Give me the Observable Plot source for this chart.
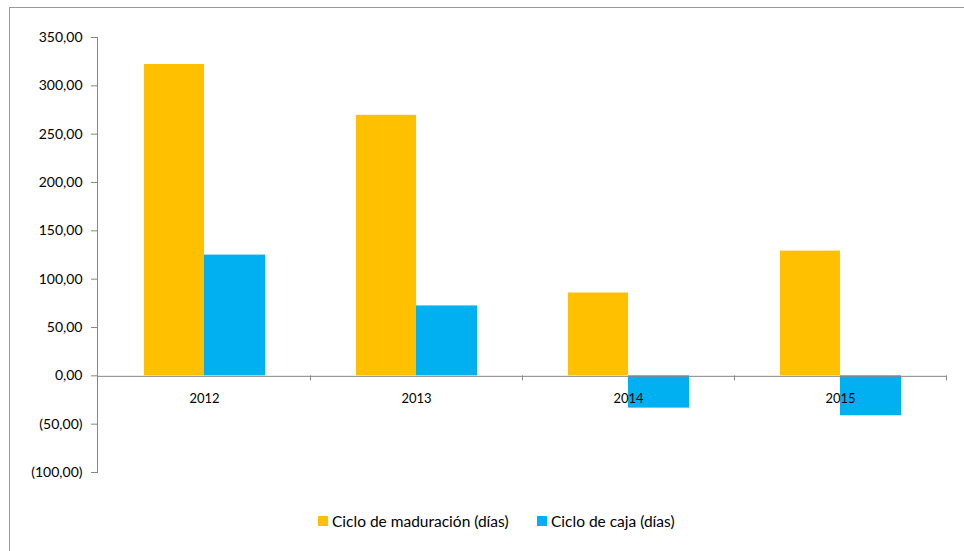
<!DOCTYPE html>
<html><head><meta charset="utf-8">
<script src="https://cdn.jsdelivr.net/npm/d3@7"></script>
<script src="https://cdn.jsdelivr.net/npm/@observablehq/plot@0.6"></script>
<style>
body{margin:0;background:#fff;font-family:Lato,"Open Sans",sans-serif;}
#wrap{position:relative;width:964px;height:551px;overflow:hidden;}
#border{position:absolute;left:9px;top:7px;width:1000px;height:600px;border-left:1.5px solid #9a9a9a;border-top:1.5px solid #9a9a9a;}
#chart{position:absolute;left:0;top:0;}
.item{position:absolute;top:512px;font-size:15.5px;color:#000;display:flex;align-items:center;white-space:nowrap;}
.sw{width:10px;height:10px;display:inline-block;margin-right:4px;}
</style>
</head><body>
<div id="wrap"><div id="border"></div><div id="chart"></div>
<div class="item" style="left:318px"><span class="sw" style="background:#FFC000"></span>Ciclo de maduración (días)</div>
<div class="item" style="left:537px"><span class="sw" style="background:#00B0F0"></span>Ciclo de caja (días)</div>
</div>
<script>
const years = ["2012", "2013", "2014", "2015"];
const maduracion = [322.1, 269.5, 85.7, 129.0];
const caja = [124.9, 72.3, -33.4, -41.3];
const yTicks = [-100, -50, 0, 50, 100, 150, 200, 250, 300, 350];

const rowsM = years.map((y, i) => ({year: y, value: maduracion[i]}));
const rowsC = years.map((y, i) => ({year: y, value: caja[i]}));

const num = v => Math.abs(v).toFixed(2).replace(".", ",");
const fmt = v => v < 0 ? `(${num(v)})` : num(v);
const gray = "#868686";

const chart = Plot.plot({
  width: 964, height: 500,
  marginLeft: 97, marginRight: 18, marginTop: 37, marginBottom: 28,
  x: {domain: years, padding: 0, axis: null},
  y: {domain: [-100, 350], axis: null},
  style: {fontFamily: "Lato, 'Open Sans', sans-serif", fontSize: "14px", color: "#000", background: "transparent"},
  marks: [
    Plot.barY(rowsM, {x: "year", y: "value", fill: "#FFC000", insetLeft: 46, insetRight: 106}),
    Plot.barY(rowsC, {x: "year", y: "value", fill: "#00B0F0", insetLeft: 106, insetRight: 45}),
    Plot.ruleY([0], {stroke: gray, dy: 0.5}),
    Plot.frame({anchor: "left", stroke: gray}),
    Plot.axisY({ticks: yTicks, label: null, tickSize: 6, tickPadding: 9, tickFormat: fmt, stroke: gray, fill: "#000", fontSize: 14}),
    Plot.ruleX(years, {x: d => d, y1: 0, y2: 0, insetBottom: -5, dx: 106, stroke: gray}),
    Plot.text(years, {x: d => d, y: 0, dy: 23, text: d => d, fontSize: 13, fill: "#000"})
  ]
});
document.getElementById("chart").appendChild(chart);
</script>
</body></html>
